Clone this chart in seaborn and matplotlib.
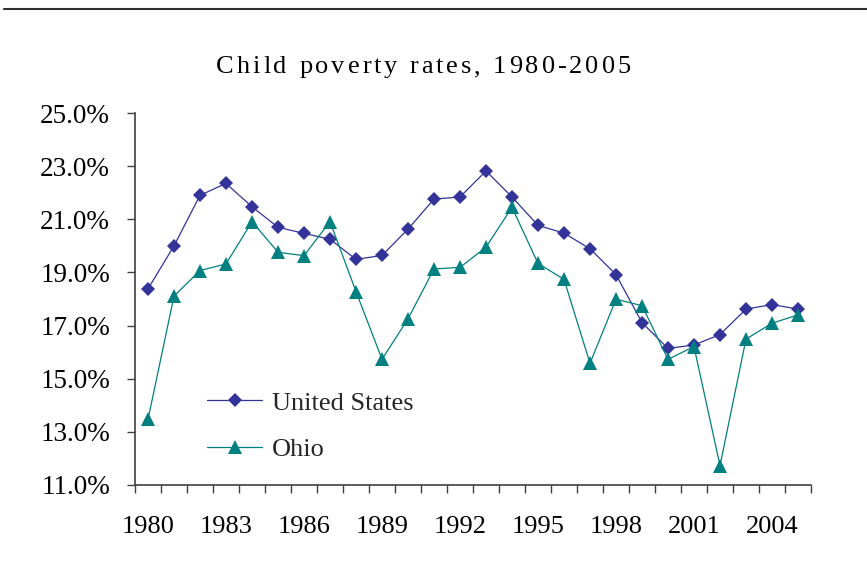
import matplotlib
matplotlib.use("Agg")
import matplotlib.pyplot as plt
from matplotlib.lines import Line2D
from matplotlib.ticker import FixedLocator, FuncFormatter
import seaborn as sns
import pandas as pd

years = list(range(1980, 2006))
us_rates = [18.38, 20.00, 21.90, 22.35, 21.47, 20.70, 20.47, 20.25, 19.49,
            19.64, 20.63, 21.76, 21.84, 22.82, 21.84, 20.77, 20.48, 19.89,
            18.92, 17.11, 16.14, 16.27, 16.66, 17.62, 17.79, 17.62]
ohio_rates = [13.47, 18.11, 19.07, 19.32, 20.91, 19.76, 19.63, 20.91, 18.28,
              15.73, 17.25, 19.13, 19.19, 19.95, 21.45, 19.34, 18.74, 15.58,
              17.99, 17.75, 15.73, 16.21, 11.73, 16.49, 17.09, 17.40]
series_names = ["United States", "Ohio"]
title_text = "Child poverty rates, 1980-2005"
y_ticks = [11, 13, 15, 17, 19, 21, 23, 25]
label_years = list(range(1980, 2005, 3))

sns.set_theme(style="white")
plt.rcParams["font.family"] = ["Liberation Serif", "DejaVu Serif"]

df = pd.DataFrame({
    "pos": list(range(len(years))) * 2,
    "rate": us_rates + ohio_rates,
    "series": [series_names[0]] * len(years) + [series_names[1]] * len(years),
})

colors = {"United States": "#333399", "Ohio": "#008080"}
markers = {"United States": "D", "Ohio": "^"}
msize = {"D": 7.2, "^": 9.6}

fig = plt.figure(figsize=(8.67, 5.73), dpi=100)
ax = fig.add_axes([135 / 867, 1 - 485 / 573, 676 / 867, 372 / 573])

sns.lineplot(data=df, x="pos", y="rate", hue="series", style="series",
             palette=colors, markers=markers, dashes=False, linewidth=0.9,
             markeredgewidth=0, ax=ax, legend=False)
for line in ax.lines:
    line.set_markersize(msize.get(line.get_marker(), 7))

ax.set_xlim(-0.5, len(years) - 0.5)
ax.set_ylim(11, 25)
ax.set_xlabel("")
ax.set_ylabel("")

# category boundaries carry the tick marks; labels sit at category centres
ax.xaxis.set_major_locator(FixedLocator([i - 0.5 for i in range(len(years) + 1)]))
ax.xaxis.set_major_formatter(FuncFormatter(lambda v, p: ""))
ax.xaxis.set_minor_locator(FixedLocator([years.index(y) for y in label_years]))
ax.xaxis.set_minor_formatter(FuncFormatter(lambda v, p: str(years[int(round(v))])))
ax.tick_params(axis="x", which="major", direction="out", length=6, width=1,
               color="#404040", bottom=True)
ax.tick_params(axis="x", which="minor", length=0, pad=22, labelsize=19,
               labelcolor="black", bottom=True)

ax.set_yticks(y_ticks)
ax.yaxis.set_major_formatter(FuncFormatter(lambda v, p: f"{v:.1f}%"))
ax.tick_params(axis="y", direction="out", length=6, width=1, color="#404040",
               pad=12, labelsize=19.5, labelcolor="black", left=True)

for side in ["top", "right"]:
    ax.spines[side].set_visible(False)
for side in ["left", "bottom"]:
    ax.spines[side].set_color("#404040")
    ax.spines[side].set_linewidth(1.2)
ax.grid(False)

handles = [Line2D([], [], color=colors[n], marker=markers[n], linewidth=0.9,
                  markersize=msize[markers[n]], markeredgewidth=0)
           for n in series_names]
ax.legend(handles, series_names, loc="upper left",
          bbox_to_anchor=(72 / 676, 0.252), frameon=False, fontsize=19,
          handlelength=2.1, handletextpad=0.35, labelspacing=0.86,
          borderpad=0, borderaxespad=0)

# letter-spaced title
fig.canvas.draw()
renderer = fig.canvas.get_renderer()
title_kw = dict(fontsize=19, color="black")


def text_width(s):
    t = fig.text(0, 0, s, **title_kw)
    w = t.get_window_extent(renderer).width
    t.remove()
    return w


extra = 2.9
w_x = text_width("x")
offsets = [text_width(title_text[:i] + "x") - w_x for i in range(len(title_text))]
total = text_width(title_text) + extra * (len(title_text) - 1)
x0 = 423.5 - total / 2
baseline = 1 - 73 / 573
for i, ch in enumerate(title_text):
    if ch == " ":
        continue
    fig.text((x0 + offsets[i] + extra * i) / 867, baseline, ch,
             ha="left", va="baseline", **title_kw)

# rule across the top of the page
fig.add_artist(Line2D([4 / 867, 1.0], [1 - 9 / 573, 1 - 9 / 573],
                      transform=fig.transFigure, color="#303030", linewidth=1.5))

fig.savefig("out.png", dpi=100)
